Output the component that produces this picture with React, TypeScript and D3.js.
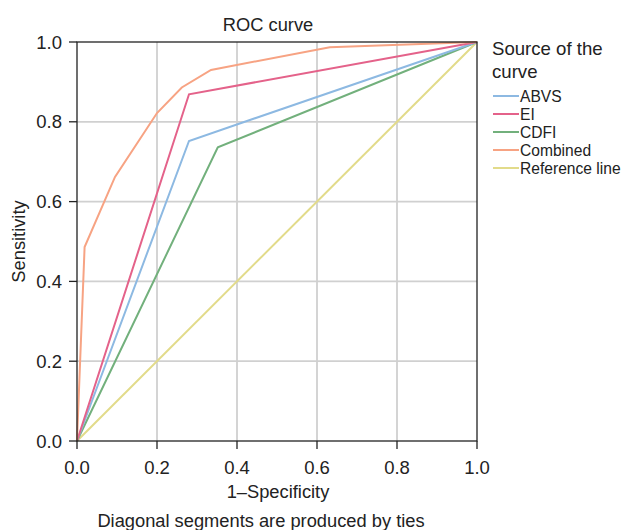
import React from "react";
import * as d3 from "d3";

const WIDTH = 625;
const HEIGHT = 530;
const PLOT = { left: 77, right: 477, top: 42, bottom: 441 };
const FONT = "Liberation Sans, Arial, sans-serif";

const ticks = [0, 0.2, 0.4, 0.6, 0.8, 1.0];

// [1-specificity, sensitivity]
const abvs = [[0, 0], [0.28, 0.752], [1, 1]];
const ei = [[0, 0], [0.28, 0.869], [1, 1]];
const cdfi = [[0, 0], [0.352, 0.736], [1, 1]];
const combined = [
  [0, 0], [0.019, 0.486], [0.095, 0.662], [0.2, 0.822], [0.262, 0.886],
  [0.335, 0.93], [0.632, 0.987], [1, 1],
];
const reference = [[0, 0], [1, 1]];

const seriesNames = ["ABVS", "EI", "CDFI", "Combined", "Reference line"];
const seriesData = [abvs, ei, cdfi, combined, reference];
const COLORS = ["#8db9e2", "#e4628a", "#72b07c", "#f7a383", "#e2db8a"];

const App = () => {
  const x = d3.scaleLinear().domain([0, 1]).range([PLOT.left, PLOT.right]);
  const y = d3.scaleLinear().domain([0, 1]).range([PLOT.bottom, PLOT.top]);
  const line = d3.line<number[]>().x((d) => x(d[0])).y((d) => y(d[1]));

  // draw order: reference under the others
  const order = [4, 2, 0, 1, 3];

  return (
    <svg width={WIDTH} height={HEIGHT} style={{ position: "absolute", left: 0, top: 0 }}
      fontFamily={FONT}>
      <rect width={WIDTH} height={HEIGHT} fill="#fff" />
      <text x={268} y={31} textAnchor="middle" fontSize={18.3} fill="#222">ROC curve</text>

      {/* grid */}
      {ticks.slice(1, -1).map((t) => (
        <g key={t}>
          <line x1={x(t)} x2={x(t)} y1={PLOT.top} y2={PLOT.bottom} stroke="#d0d0d0" strokeWidth={1.8} />
          <line x1={PLOT.left} x2={PLOT.right} y1={y(t)} y2={y(t)} stroke="#d0d0d0" strokeWidth={1.8} />
        </g>
      ))}

      {order.map((i) => (
        <path key={seriesNames[i]} d={line(seriesData[i]) ?? ""} fill="none"
          stroke={COLORS[i]} strokeWidth={2} />
      ))}

      <rect x={PLOT.left} y={PLOT.top} width={PLOT.right - PLOT.left} height={PLOT.bottom - PLOT.top}
        fill="none" stroke="#222" strokeWidth={1.3} />

      {/* y axis */}
      {ticks.map((t) => (
        <g key={"y" + t}>
          <line x1={PLOT.left - 8} x2={PLOT.left} y1={y(t)} y2={y(t)} stroke="#222" strokeWidth={1.3} />
          <text x={62} y={y(t)} dy="0.36em" textAnchor="end" fontSize={18.5} fill="#222">
            {t.toFixed(1)}
          </text>
        </g>
      ))}
      {/* x axis */}
      {ticks.map((t) => (
        <g key={"x" + t}>
          <line x1={x(t)} x2={x(t)} y1={PLOT.bottom} y2={PLOT.bottom + 8} stroke="#222" strokeWidth={1.3} />
          <text x={x(t)} y={474} textAnchor="middle" fontSize={18.5} fill="#222">
            {t.toFixed(1)}
          </text>
        </g>
      ))}

      <text x={278} y={498} textAnchor="middle" fontSize={18.3} fill="#222">1–Specificity</text>
      <text transform={`translate(25,${(PLOT.top + PLOT.bottom) / 2}) rotate(-90)`} textAnchor="middle"
        fontSize={18.3} fill="#222">Sensitivity</text>
      <text x={261} y={526.5} textAnchor="middle" fontSize={18.3} fill="#222">
        Diagonal segments are produced by ties
      </text>

      {/* legend */}
      <text x={492} y={54.5} fontSize={18.6} fill="#222">Source of the</text>
      <text x={492} y={78} fontSize={18.6} fill="#222">curve</text>
      {seriesNames.map((name, i) => {
        const ly = 96 + i * 18;
        return (
          <g key={name}>
            <line x1={493} x2={519} y1={ly} y2={ly} stroke={COLORS[i]} strokeWidth={2} />
            <text x={520} y={ly} dy="0.36em" fontSize={15.6} fill="#222">{name}</text>
          </g>
        );
      })}
    </svg>
  );
};

export default App;
